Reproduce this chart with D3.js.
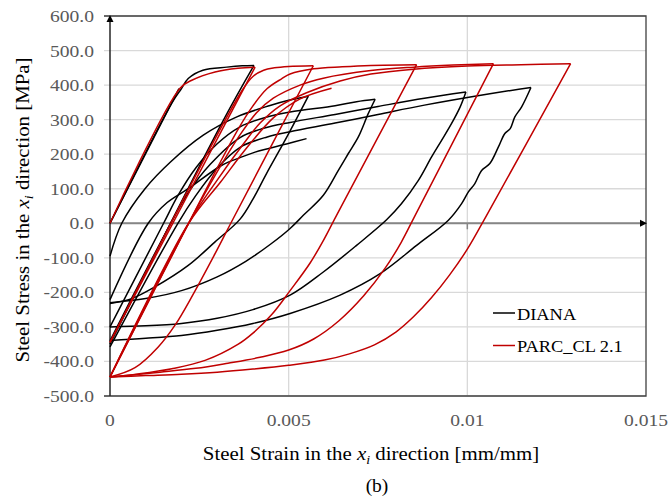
<!DOCTYPE html>
<html>
<head>
<meta charset="utf-8">
<script src="https://cdn.jsdelivr.net/npm/d3@7"></script>
<style>
  html, body { margin: 0; padding: 0; background: #fff; }
  svg { display: block; }
  text { font-family: "Liberation Serif", "Times New Roman", serif; }
</style>
</head>
<body>
<svg id="chart" width="670" height="500"></svg>
<script>
// Axis ticks
const strainTicks = [0, 0.005, 0.01, 0.015];
const strainTickLabels = ["0", "0.005", "0.01", "0.015"];
const stressTicks = [-500, -400, -300, -200, -100, 0, 100, 200, 300, 400, 500, 600];

// DIANA branches: [strain (mm/mm), stress (MPa)]
const diana1 = [[0, 0], [0.00193, 390]];
const diana2 = [[0, 0], [0.00173, 348], [0.00200, 390], [0.00219, 419], [0.00260, 443], [0.00327, 452],
  [0.00370, 456], [0.00403, 457], [0.00313, 290], [0, -350]];
const diana3 = [[0, -95], [0.00033, 0], [0.00098, 100], [0.00170, 178], [0.00261, 255], [0.00355, 308],
  [0.00448, 341], [0.00500, 356], [0.00555, 368], [0.00495, 250], [0.00438, 144],
  [0.00400, 70], [0.00364, 12], [0.00294, -54], [0.00219, -122], [0.00126, -184], [0.00061, -218], [0, -232]];
const diana4 = [[0, -300], [0.00150, 0], [0.00190, 80], [0.00240, 160], [0.00300, 230], [0.00364, 279],
  [0.00430, 305], [0.00504, 322], [0.00630, 340], [0.00690, 352], [0.00742, 359], [0.00723, 318],
  [0.00695, 250], [0.00667, 202], [0.00639, 153], [0.00597, 81], [0.00541, 23], [0.00504, -15],
  [0.00450, -60], [0.00380, -110], [0.00300, -155], [0.00200, -195], [0.00100, -218], [0, -230]];
const diana5 = [[0, -340], [0.00170, 0], [0.00220, 90], [0.00280, 170], [0.00364, 248], [0.00430, 275],
  [0.00504, 292], [0.00630, 315], [0.00750, 338], [0.00880, 362], [0.00996, 380], [0.00980, 337],
  [0.00956, 289], [0.00928, 240], [0.00900, 192], [0.00863, 124], [0.00816, 57], [0.00774, 10],
  [0.00690, -64], [0.00597, -141], [0.00504, -208], [0.00400, -250], [0.00300, -275], [0.00200, -290],
  [0.00100, -297], [0, -300]];
const diana6 = [[0, -358], [0.00190, 0], [0.00240, 80], [0.00300, 160], [0.00364, 220], [0.00440, 250],
  [0.00504, 265], [0.00630, 290], [0.00750, 315], [0.00880, 342], [0.01063, 375], [0.01178, 393],
  [0.01152, 337], [0.01133, 308], [0.01120, 274], [0.01105, 260], [0.01087, 221], [0.01063, 173],
  [0.01040, 153], [0.01021, 115], [0.01003, 91], [0.00984, 57], [0.00947, 9], [0.00858, -64],
  [0.00756, -146], [0.00644, -208], [0.00504, -261], [0.00400, -290], [0.00300, -310], [0.00200, -325],
  [0.00100, -333], [0, -339]];
const diana7 = [[0, -221], [0.00107, 0], [0.00160, 60], [0.00219, 100], [0.00313, 168], [0.00364, 190],
  [0.00406, 206], [0.00499, 231], [0.00550, 245]];

// PARC_CL 2.1 branches: [strain (mm/mm), stress (MPa)]
const parc1 = [[0, 0], [0.00196, 391], [0.00229, 414], [0.00294, 438], [0.00358, 449], [0.00406, 452], [0, -345]];
const parc2 = [[0, -345], [0.00370, 385], [0.00400, 425], [0.00430, 443], [0.00460, 450], [0.00500, 454],
  [0.00569, 456], [0.00338, 0], [0.00294, -88],
  [0.00233, -205], [0.00182, -295], [0.00135, -358], [0.00070, -418], [0, -445]];
const parc3 = [[0, -445], [0.00220, 0], [0.00300, 160], [0.00360, 275], [0.00400, 340], [0.00440, 390],
  [0.00480, 418], [0.00504, 432], [0.00570, 447], [0.00650, 453], [0.00730, 457], [0.00858, 459], [0.00634, 23],
  [0.00597, -50], [0.00560, -115], [0.00504, -195], [0.00452, -265], [0.00400, -318], [0.00359, -350],
  [0.00266, -397], [0.00173, -421], [0.00079, -436], [0, -445]];
const parc4 = [[0, -445], [0.00220, 0], [0.00295, 140], [0.00360, 250], [0.00410, 320], [0.00457, 362],
  [0.00532, 400], [0.00597, 420], [0.00730, 442], [0.00850, 452], [0.00960, 458],
  [0.01073, 462], [0.00854, 23], [0.00815, -55], [0.00770, -130], [0.00710, -210], [0.00640, -283],
  [0.00570, -335], [0.00500, -367], [0.00420, -388], [0.00330, -405], [0.00240, -420], [0.00140, -431],
  [0.00060, -439], [0, -445]];
const parc5 = [[0, -445], [0.00220, 0], [0.00300, 125], [0.00370, 225], [0.00420, 290], [0.00476, 340],
  [0.00550, 378], [0.00644, 412], [0.00730, 432], [0.00850, 446], [0.01000, 455], [0.01150, 459],
  [0.01289, 462], [0.01054, 23], [0.01000, -75], [0.00950, -150], [0.00900, -215], [0.00850, -270],
  [0.00800, -315], [0.00740, -352], [0.00670, -378], [0.00600, -396], [0.00500, -411], [0.00400, -422],
  [0.00300, -431], [0.00200, -437], [0.00100, -441], [0, -445]];
const parc6 = [[0, -445], [0.00220, 0], [0.00310, 120], [0.00380, 215], [0.00457, 305], [0.00532, 360],
  [0.00620, 391]];

const dianaBranches = [diana1, diana2, diana3, diana4, diana5, diana6, diana7];
const parcBranches = [parc1, parc2, parc3, parc4, parc5, parc6];

const seriesNames = ["DIANA", "PARC_CL 2.1"];
const seriesColors = ["#000000", "#C00000"];

// Break a branch wherever the strain reverses, so each loading or
// unloading half-cycle is smoothed on its own and reversal corners stay sharp.
function halfCycles(branch) {
  const parts = [];
  let cur = [branch[0]];
  for (let i = 1; i < branch.length; i++) {
    cur.push(branch[i]);
    if (i < branch.length - 1) {
      const a = branch[i][0] - branch[i - 1][0];
      const b = branch[i + 1][0] - branch[i][0];
      if (a * b < 0) { parts.push(cur); cur = [branch[i]]; }
    }
  }
  parts.push(cur);
  return parts;
}

const svg = d3.select("#chart");
const x = d3.scaleLinear().domain([0, 0.015]).range([110, 646]);
const y = d3.scaleLinear().domain([-500, 600]).range([396, 16]);

// Horizontal gridlines with small outward ticks
svg.append("g")
  .selectAll("line")
  .data(stressTicks)
  .join("line")
  .attr("x1", 104).attr("x2", 646)
  .attr("y1", d => y(d)).attr("y2", d => y(d))
  .attr("stroke", "#D9D9D9").attr("stroke-width", 1.3);

// Vertical gridlines
svg.append("g")
  .selectAll("line")
  .data(strainTicks.slice(1, 3))
  .join("line")
  .attr("x1", d => x(d)).attr("x2", d => x(d))
  .attr("y1", 16).attr("y2", 396)
  .attr("stroke", "#D9D9D9").attr("stroke-width", 1.3);

// Frame on top, right and bottom
svg.append("path")
  .attr("d", `M${104},${y(600)}H${x(0.015)}V${y(-500)}H${104}`)
  .attr("fill", "none").attr("stroke", "#404040").attr("stroke-width", 1.3);

// Horizontal axis through zero stress
svg.append("line")
  .attr("x1", x(0)).attr("x2", x(0.015) - 4)
  .attr("y1", y(0)).attr("y2", y(0))
  .attr("stroke", "#868686").attr("stroke-width", 2);
svg.append("g")
  .selectAll("line")
  .data(strainTicks.slice(1, 3))
  .join("line")
  .attr("x1", d => x(d)).attr("x2", d => x(d))
  .attr("y1", y(0)).attr("y2", y(0) + 6)
  .attr("stroke", "#868686").attr("stroke-width", 1.5);
svg.append("path")
  .attr("d", `M${x(0.015) + 1},${y(0)}L${x(0.015) - 6},${y(0) - 3.5}L${x(0.015) - 6},${y(0) + 3.5}Z`)
  .attr("fill", "#000");

// Vertical axis at zero strain with arrow
svg.append("line")
  .attr("x1", x(0)).attr("x2", x(0))
  .attr("y1", y(600) + 3).attr("y2", y(-500))
  .attr("stroke", "#262626").attr("stroke-width", 1.5);
svg.append("path")
  .attr("d", `M${x(0)},${y(600) - 1}L${x(0) - 3.5},${y(600) + 6}L${x(0) + 3.5},${y(600) + 6}Z`)
  .attr("fill", "#000");

// Tick labels
svg.append("g")
  .selectAll("text")
  .data(stressTicks)
  .join("text")
  .attr("transform", d => `translate(94,${y(d) + 6}) scale(1.12,1)`)
  .attr("text-anchor", "end")
  .attr("font-size", 17.5)
  .attr("fill", "#595959")
  .text(d => d.toFixed(1));

svg.append("g")
  .selectAll("text")
  .data(strainTicks)
  .join("text")
  .attr("transform", d => `translate(${x(d)},426) scale(1.12,1)`)
  .attr("text-anchor", "middle")
  .attr("font-size", 17.5)
  .attr("fill", "#595959")
  .text((d, i) => strainTickLabels[i]);

// Curves
const line = d3.line()
  .x(d => x(d[0]))
  .y(d => y(d[1]))
  .curve(d3.curveCatmullRom.alpha(0.5));
const curves = svg.append("g");
curves.selectAll("path.diana")
  .data(dianaBranches.flatMap(halfCycles))
  .join("path")
  .attr("class", "diana")
  .attr("d", line)
  .attr("fill", "none")
  .attr("stroke", seriesColors[0])
  .attr("stroke-width", 1.5)
  .attr("stroke-linejoin", "round");
curves.selectAll("path.parc")
  .data(parcBranches.flatMap(halfCycles))
  .join("path")
  .attr("class", "parc")
  .attr("d", line)
  .attr("fill", "none")
  .attr("stroke", seriesColors[1])
  .attr("stroke-width", 1.5)
  .attr("stroke-linejoin", "round");

// Legend
const legend = svg.append("g");
seriesNames.forEach((name, i) => {
  const ly = 313 + i * 32.5;
  legend.append("line")
    .attr("x1", 493).attr("x2", 515)
    .attr("y1", ly).attr("y2", ly)
    .attr("stroke", seriesColors[i]).attr("stroke-width", 1.5);
  legend.append("text")
    .attr("transform", `translate(517,${ly + 6.5}) scale(1.08,1)`)
    .attr("font-size", 17)
    .attr("fill", "#000")
    .text(name);
});

// Axis titles
const xTitle = svg.append("text")
  .attr("transform", "translate(371,460) scale(1.07,1)")
  .attr("text-anchor", "middle")
  .attr("font-size", 19.5)
  .attr("fill", "#000");
xTitle.append("tspan").text("Steel Strain in the ");
xTitle.append("tspan").attr("font-style", "italic").text("x");
xTitle.append("tspan").attr("font-style", "italic").attr("font-size", 13).attr("dy", 4).text("i");
xTitle.append("tspan").attr("dy", -4).text(" direction  [mm/mm]");

const yTitle = svg.append("text")
  .attr("transform", "translate(29,210) rotate(-90) scale(1.07,1)")
  .attr("text-anchor", "middle")
  .attr("font-size", 19.5)
  .attr("fill", "#000");
yTitle.append("tspan").text("Steel Stress in the ");
yTitle.append("tspan").attr("font-style", "italic").text("x");
yTitle.append("tspan").attr("font-style", "italic").attr("font-size", 13).attr("dy", 4).text("i");
yTitle.append("tspan").attr("dy", -4).text(" direction [MPa]");

svg.append("text")
  .attr("x", 377).attr("y", 492)
  .attr("text-anchor", "middle")
  .attr("font-size", 19.5)
  .attr("fill", "#000")
  .text("(b)");
</script>
</body>
</html>
